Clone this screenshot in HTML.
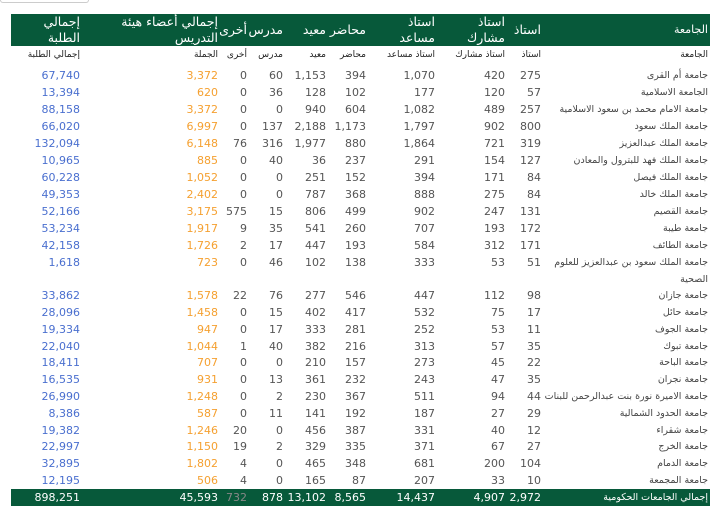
<!DOCTYPE html>
<html><head><meta charset="utf-8"><style>
body{margin:0;width:720px;height:520px;background:#fff;position:relative;overflow:hidden;font-family:"DejaVu Sans","Noto Sans CJK SC",sans-serif;}
.top{position:absolute;left:0;top:-1px;width:87px;height:3px;border:1px solid #ccc;border-top:none;border-radius:0 0 3px 3px}
.hd{position:absolute;left:11px;top:14px;width:699px;height:32px;background:#07593a}
.ft{position:absolute;left:11px;top:489px;width:699px;height:17px;background:#07593a}
.r{position:absolute;left:0;width:720px;height:17px;font-size:11px;line-height:17px;color:#555}
.r span{position:absolute;text-align:right;white-space:nowrap}
.c0{right:640px;color:#4a6fcf}.c1{right:502px;color:#f5a030}.c2{right:473px}.c3{right:437px}.c4{right:394px}.c5{right:354px}.c6{right:285px}.c7{right:215px}.c8{right:179px}
.c9{right:12px;font-size:9.5px;color:#444;font-family:"DejaVu Sans","Noto Sans CJK SC",sans-serif}
.h span{color:#fff;font-size:12.5px;line-height:16px}
.s span{font-size:9px;color:#222}
.f span{color:#fff}
.f .c2{color:#888}
</style></head><body>
<div class="top"></div>
<div class="hd"></div>
<div class="r h" style="top:14px;height:32px">
<span class="c0" style="color:#fff">إجمالي<br>الطلبة</span>
<span class="c1" style="color:#fff">إجمالي أعضاء هيئة<br>التدريس</span>
<span class="c2" style="top:8px">أخرى</span>
<span class="c3" style="top:8px">مدرس</span>
<span class="c5" style="top:8px">محاضر معيد</span>
<span class="c6">استاذ<br>مساعد</span>
<span class="c7">استاذ<br>مشارك</span>
<span class="c8" style="top:8px">استاذ</span>
<span class="c9" style="top:8px;font-size:11px;color:#fff">الجامعة</span>
</div>
<div class="r s" style="top:47px">
<span class="c0">إجمالي الطلبة</span><span class="c1" style="color:#222">الجملة</span><span class="c2">أخرى</span><span class="c3">مدرس</span><span class="c4">معيد</span><span class="c5">محاضر</span><span class="c6">استاذ مساعد</span><span class="c7">استاذ مشارك</span><span class="c8">استاذ</span><span class="c9" style="font-size:9px">الجامعة</span>
</div>
<div class="r" style="top:67px"><span class="c0">67,740</span><span class="c1">3,372</span><span class="c2">0</span><span class="c3">60</span><span class="c4">1,153</span><span class="c5">394</span><span class="c6">1,070</span><span class="c7">420</span><span class="c8">275</span><span class="c9">جامعة أم القرى</span></div>
<div class="r" style="top:84px"><span class="c0">13,394</span><span class="c1">620</span><span class="c2">0</span><span class="c3">36</span><span class="c4">128</span><span class="c5">102</span><span class="c6">177</span><span class="c7">120</span><span class="c8">57</span><span class="c9">الجامعة الاسلامية</span></div>
<div class="r" style="top:101px"><span class="c0">88,158</span><span class="c1">3,372</span><span class="c2">0</span><span class="c3">0</span><span class="c4">940</span><span class="c5">604</span><span class="c6">1,082</span><span class="c7">489</span><span class="c8">257</span><span class="c9">جامعة الامام محمد بن سعود الاسلامية</span></div>
<div class="r" style="top:118px"><span class="c0">66,020</span><span class="c1">6,997</span><span class="c2">0</span><span class="c3">137</span><span class="c4">2,188</span><span class="c5">1,173</span><span class="c6">1,797</span><span class="c7">902</span><span class="c8">800</span><span class="c9">جامعة الملك سعود</span></div>
<div class="r" style="top:135px"><span class="c0">132,094</span><span class="c1">6,148</span><span class="c2">76</span><span class="c3">316</span><span class="c4">1,977</span><span class="c5">880</span><span class="c6">1,864</span><span class="c7">721</span><span class="c8">319</span><span class="c9">جامعة الملك عبدالعزيز</span></div>
<div class="r" style="top:152px"><span class="c0">10,965</span><span class="c1">885</span><span class="c2">0</span><span class="c3">40</span><span class="c4">36</span><span class="c5">237</span><span class="c6">291</span><span class="c7">154</span><span class="c8">127</span><span class="c9">جامعة الملك فهد للبترول والمعادن</span></div>
<div class="r" style="top:169px"><span class="c0">60,228</span><span class="c1">1,052</span><span class="c2">0</span><span class="c3">0</span><span class="c4">251</span><span class="c5">152</span><span class="c6">394</span><span class="c7">171</span><span class="c8">84</span><span class="c9">جامعة الملك فيصل</span></div>
<div class="r" style="top:186px"><span class="c0">49,353</span><span class="c1">2,402</span><span class="c2">0</span><span class="c3">0</span><span class="c4">787</span><span class="c5">368</span><span class="c6">888</span><span class="c7">275</span><span class="c8">84</span><span class="c9">جامعة الملك خالد</span></div>
<div class="r" style="top:203px"><span class="c0">52,166</span><span class="c1">3,175</span><span class="c2">575</span><span class="c3">15</span><span class="c4">806</span><span class="c5">499</span><span class="c6">902</span><span class="c7">247</span><span class="c8">131</span><span class="c9">جامعة القصيم</span></div>
<div class="r" style="top:220px"><span class="c0">53,234</span><span class="c1">1,917</span><span class="c2">9</span><span class="c3">35</span><span class="c4">541</span><span class="c5">260</span><span class="c6">707</span><span class="c7">193</span><span class="c8">172</span><span class="c9">جامعة طيبة</span></div>
<div class="r" style="top:237px"><span class="c0">42,158</span><span class="c1">1,726</span><span class="c2">2</span><span class="c3">17</span><span class="c4">447</span><span class="c5">193</span><span class="c6">584</span><span class="c7">312</span><span class="c8">171</span><span class="c9">جامعة الطائف</span></div>
<div class="r" style="top:254px"><span class="c0">1,618</span><span class="c1">723</span><span class="c2">0</span><span class="c3">46</span><span class="c4">102</span><span class="c5">138</span><span class="c6">333</span><span class="c7">53</span><span class="c8">51</span><span class="c9" style="text-align:right;line-height:17px">جامعة الملك سعود بن عبدالعزيز للعلوم<br>الصحية</span></div>
<div class="r" style="top:287px"><span class="c0">33,862</span><span class="c1">1,578</span><span class="c2">22</span><span class="c3">76</span><span class="c4">277</span><span class="c5">546</span><span class="c6">447</span><span class="c7">112</span><span class="c8">98</span><span class="c9">جامعة جازان</span></div>
<div class="r" style="top:304px"><span class="c0">28,096</span><span class="c1">1,458</span><span class="c2">0</span><span class="c3">15</span><span class="c4">402</span><span class="c5">417</span><span class="c6">532</span><span class="c7">75</span><span class="c8">17</span><span class="c9">جامعة حائل</span></div>
<div class="r" style="top:321px"><span class="c0">19,334</span><span class="c1">947</span><span class="c2">0</span><span class="c3">17</span><span class="c4">333</span><span class="c5">281</span><span class="c6">252</span><span class="c7">53</span><span class="c8">11</span><span class="c9">جامعة الجوف</span></div>
<div class="r" style="top:338px"><span class="c0">22,040</span><span class="c1">1,044</span><span class="c2">1</span><span class="c3">40</span><span class="c4">382</span><span class="c5">216</span><span class="c6">313</span><span class="c7">57</span><span class="c8">35</span><span class="c9">جامعة تبوك</span></div>
<div class="r" style="top:354px"><span class="c0">18,411</span><span class="c1">707</span><span class="c2">0</span><span class="c3">0</span><span class="c4">210</span><span class="c5">157</span><span class="c6">273</span><span class="c7">45</span><span class="c8">22</span><span class="c9">جامعة الباحة</span></div>
<div class="r" style="top:371px"><span class="c0">16,535</span><span class="c1">931</span><span class="c2">0</span><span class="c3">13</span><span class="c4">361</span><span class="c5">232</span><span class="c6">243</span><span class="c7">47</span><span class="c8">35</span><span class="c9">جامعة نجران</span></div>
<div class="r" style="top:388px"><span class="c0">26,990</span><span class="c1">1,248</span><span class="c2">0</span><span class="c3">2</span><span class="c4">230</span><span class="c5">367</span><span class="c6">511</span><span class="c7">94</span><span class="c8">44</span><span class="c9">جامعة الاميرة نورة بنت عبدالرحمن للبنات</span></div>
<div class="r" style="top:405px"><span class="c0">8,386</span><span class="c1">587</span><span class="c2">0</span><span class="c3">11</span><span class="c4">141</span><span class="c5">192</span><span class="c6">187</span><span class="c7">27</span><span class="c8">29</span><span class="c9">جامعة الحدود الشمالية</span></div>
<div class="r" style="top:422px"><span class="c0">19,382</span><span class="c1">1,246</span><span class="c2">20</span><span class="c3">0</span><span class="c4">456</span><span class="c5">387</span><span class="c6">331</span><span class="c7">40</span><span class="c8">12</span><span class="c9">جامعة شقراء</span></div>
<div class="r" style="top:438px"><span class="c0">22,997</span><span class="c1">1,150</span><span class="c2">19</span><span class="c3">2</span><span class="c4">329</span><span class="c5">335</span><span class="c6">371</span><span class="c7">67</span><span class="c8">27</span><span class="c9">جامعة الخرج</span></div>
<div class="r" style="top:455px"><span class="c0">32,895</span><span class="c1">1,802</span><span class="c2">4</span><span class="c3">0</span><span class="c4">465</span><span class="c5">348</span><span class="c6">681</span><span class="c7">200</span><span class="c8">104</span><span class="c9">جامعة الدمام</span></div>
<div class="r" style="top:472px"><span class="c0">12,195</span><span class="c1">506</span><span class="c2">4</span><span class="c3">0</span><span class="c4">165</span><span class="c5">87</span><span class="c6">207</span><span class="c7">33</span><span class="c8">10</span><span class="c9">جامعة المجمعة</span></div>
<div class="ft"></div>
<div class="r f" style="top:489px"><span class="c0" style="color:#fff">898,251</span><span class="c1" style="color:#fff">45,593</span><span class="c2">732</span><span class="c3">878</span><span class="c4">13,102</span><span class="c5">8,565</span><span class="c6">14,437</span><span class="c7">4,907</span><span class="c8">2,972</span><span class="c9" style="color:#fff">إجمالي الجامعات الحكومية</span></div>
</body></html>
